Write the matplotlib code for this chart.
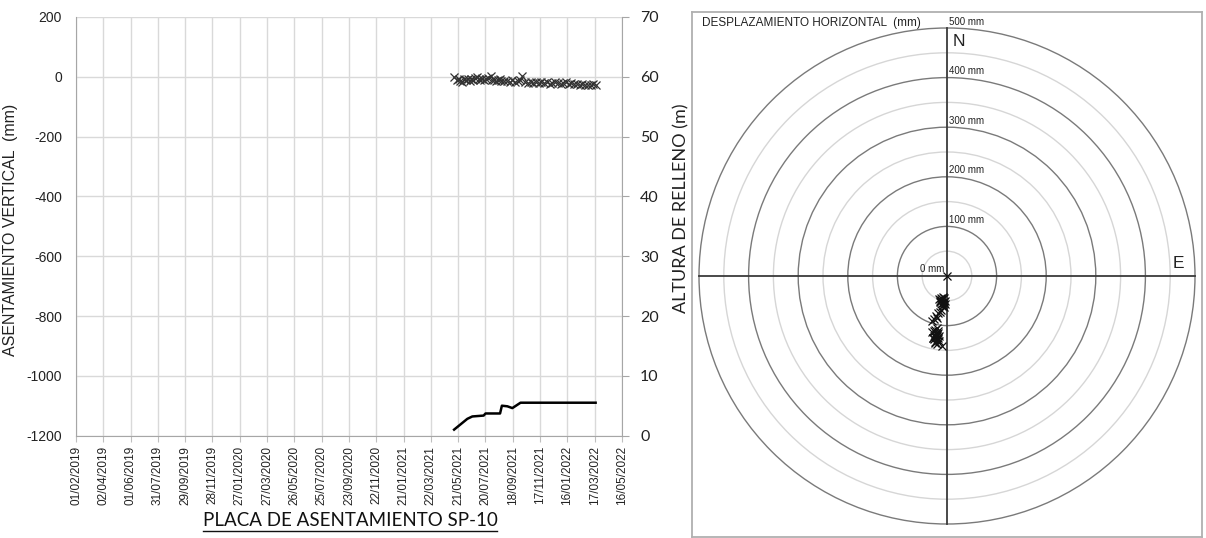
import numpy as np
import pandas as pd
import matplotlib
matplotlib.use("Agg")
import matplotlib.pyplot as plt
import matplotlib.dates as mdates
from matplotlib.patches import Circle
from matplotlib.lines import Line2D

plt.rcParams['font.family'] = ['Liberation Sans', 'DejaVu Sans']
plt.rcParams['axes.unicode_minus'] = False

# settlement plate readings (mm)
settle_dates = ["2021-05-12", "2021-05-18", "2021-05-22", "2021-05-26", "2021-05-30",
                "2021-06-03", "2021-06-07", "2021-06-11", "2021-06-15", "2021-06-19",
                "2021-06-23", "2021-06-27", "2021-07-01", "2021-07-05", "2021-07-09",
                "2021-07-13", "2021-07-17", "2021-07-21", "2021-07-25", "2021-07-31",
                "2021-08-04", "2021-08-08", "2021-08-12", "2021-08-16", "2021-08-20",
                "2021-08-24", "2021-08-30", "2021-09-05", "2021-09-11", "2021-09-17",
                "2021-09-23", "2021-09-29", "2021-10-04", "2021-10-09", "2021-10-15",
                "2021-10-21", "2021-10-27", "2021-11-02", "2021-11-08", "2021-11-14",
                "2021-11-20", "2021-11-26", "2021-12-02", "2021-12-08", "2021-12-14",
                "2021-12-20", "2021-12-26", "2022-01-01", "2022-01-07", "2022-01-13",
                "2022-01-19", "2022-01-25", "2022-01-31", "2022-02-06", "2022-02-12",
                "2022-02-18", "2022-02-24", "2022-03-02", "2022-03-08", "2022-03-14",
                "2022-03-19"]
settle_mm = [0, -12, -9, -14, -16, -8, -12, -9, -13, -7,
             -10, -4, -1, -9, -12, -6, -11, -8, -4, 2,
             -10, -12, -14, -11, -9, -13, -15, -13, -17, -12,
             -16, -14, -12, 3, -17, -21, -19, -22, -18, -20,
             -17, -21, -19, -23, -20, -16, -22, -24, -21, -18,
             -23, -21, -25, -23, -27, -24, -28, -26, -29, -25,
             -27]

# fill height (m)
fill_dates = ["2021-05-12", "2021-06-10", "2021-06-21", "2021-07-16", "2021-07-20",
              "2021-08-21", "2021-08-25", "2021-09-06", "2021-09-17", "2021-10-05",
              "2022-03-19"]
fill_m = [1.0, 2.8, 3.2, 3.35, 3.7, 3.7, 5.0, 4.9, 4.6, 5.5, 5.5]

# horizontal displacement (mm): east, north
disp_e = [0, -8, -12, -6, -14, -10, -4, -16, -9, -12, -7, -11, -15, -5, -10, -13, -8,
          -6, -12, -18, -22, -26, -30, -20, -14,
          -20, -26, -18, -24, -30, -22, -16, -28, -21, -25, -19, -23, -27, -17, -24,
          -20, -26, -22, -10, -29, -21, -18, -25]
disp_n = [0, -42, -48, -45, -52, -55, -50, -47, -58, -44, -53, -60, -50, -56, -46, -51, -54,
          -62, -68, -74, -80, -86, -90, -84, -72,
          -105, -110, -114, -118, -112, -122, -120, -126, -130, -108, -124, -116, -128, -132, -135,
          -138, -120, -115, -142, -125, -118, -111, -133]

ring_major = [100, 200, 300, 400, 500]
ring_minor = [50, 150, 250, 350, 450]

fig = plt.figure(figsize=(12.06, 5.38), dpi=100)

W, H = 1206, 538
# ---- left chart
ax_w, ax_h = 622 - 76, 435.6 - 17
ax = fig.add_axes([76 / W, 1 - 435.6 / H, ax_w / W, ax_h / H])
ticks = pd.date_range("2019-02-01", periods=21, freq="60D")
ax.set_xlim(pd.Timestamp("2019-02-01"), pd.Timestamp("2022-05-16"))
ax.set_xticks(ticks)
ax.xaxis.set_major_formatter(mdates.DateFormatter("%d/%m/%Y"))
ax.tick_params(axis="x", labelrotation=90, labelsize=8.5, length=4, color="#bfbfbf",
               labelcolor="#222222")
ax.set_ylim(-1200, 200)
ax.set_yticks(np.arange(-1200, 201, 200))
ax.tick_params(axis="y", labelsize=10, length=0, labelcolor="#222222", pad=10)
ax.grid(True, color="#d9d9d9", lw=1)
ax.set_axisbelow(True)
for s in ["top", "right"]:
    ax.spines[s].set_visible(False)
for s in ["left", "bottom"]:
    ax.spines[s].set_color("#a6a6a6")
ax.set_ylabel("ASENTAMIENTO VERTICAL  (mm)", fontsize=11.5, color="#222222")
ax.yaxis.set_label_coords((18 - 76) / ax_w, (435.6 - 230) / ax_h)

ax.plot(pd.to_datetime(settle_dates), settle_mm, ls="none", marker="x", ms=6, mew=0.9,
        color="#333333", zorder=3)

ax2 = ax.twinx()
ax2.set_ylim(0, 70)
ax2.set_yticks(np.arange(0, 71, 10))
ax2.plot(pd.to_datetime(fill_dates), fill_m, color="black", lw=1.8)
for s in ["top", "left", "bottom"]:
    ax2.spines[s].set_visible(False)
ax2.spines["right"].set_color("#a6a6a6")
ax2.tick_params(axis="y", labelsize=11.5, length=5, color="#a6a6a6", labelcolor="#222222", pad=8)
for lab in ax2.get_yticklabels():
    lab.set_family(["Lato", "DejaVu Sans"])
ax2.set_ylabel("ALTURA DE RELLENO (m)", fontsize=13, family=["Lato", "DejaVu Sans"],
               color="#222222")
ax2.yaxis.set_label_coords((673 - 76) / ax_w, (435.6 - 208) / ax_h)

title = fig.text(350 / W, 1 - 521 / H, "PLACA DE ASENTAMIENTO SP-10", ha="center", va="center",
                 fontsize=13.5, family=["Lato", "DejaVu Sans"], color="#111111")

# ---- right chart (horizontal displacement)
scale = 0.496  # px per mm
cx, cy = 947, 276
bx0, bx1, by0, by1 = 692, 1202, 12, 537
axp = fig.add_axes([bx0 / W, 1 - by1 / H, (bx1 - bx0) / W, (by1 - by0) / H])
axp.set_xlim((bx0 - cx) / scale, (bx1 - cx) / scale)
axp.set_ylim((cy - by1) / scale, (cy - by0) / scale)
axp.set_xticks([])
axp.set_yticks([])
for s in axp.spines.values():
    s.set_color("#b0b0b0")
    s.set_linewidth(1.3)

for r in ring_minor:
    axp.add_patch(Circle((0, 0), r, fill=False, ec="#d6d6d6", lw=1))
for r in ring_major:
    axp.add_patch(Circle((0, 0), r, fill=False, ec="#7a7a7a", lw=1))
axp.plot([0, 0], [-500, 500], color="#3a3a3a", lw=1.3)
axp.plot([-500, 500], [0, 0], color="#3a3a3a", lw=1.3)

for r in ring_major:
    axp.text(4, r + 3, f"{r} mm", fontsize=7, ha="left", va="bottom", color="#222222")
axp.text(-6, 4, "0 mm", fontsize=7, ha="right", va="bottom", color="#222222")
axp.text(12, 472, "N", fontsize=12.5, ha="left", va="center", color="#222222")
axp.text(466, 26, "E", fontsize=12.5, ha="center", va="center", color="#222222")
axp.text(0.02, 0.99, "DESPLAZAMIENTO HORIZONTAL  (mm)", transform=axp.transAxes,
         fontsize=8.5, ha="left", va="top", color="#222222")

axp.plot(disp_e, disp_n, ls="none", marker="x", ms=6, mew=0.9, color="#111111", zorder=4)

# underline the title
fig.canvas.draw()
bb = title.get_window_extent().transformed(fig.transFigure.inverted())
fig.add_artist(Line2D([bb.x0, bb.x1], [bb.y0 - 0.002, bb.y0 - 0.002], color="#111111", lw=1))

fig.savefig("out.png", dpi=100)
